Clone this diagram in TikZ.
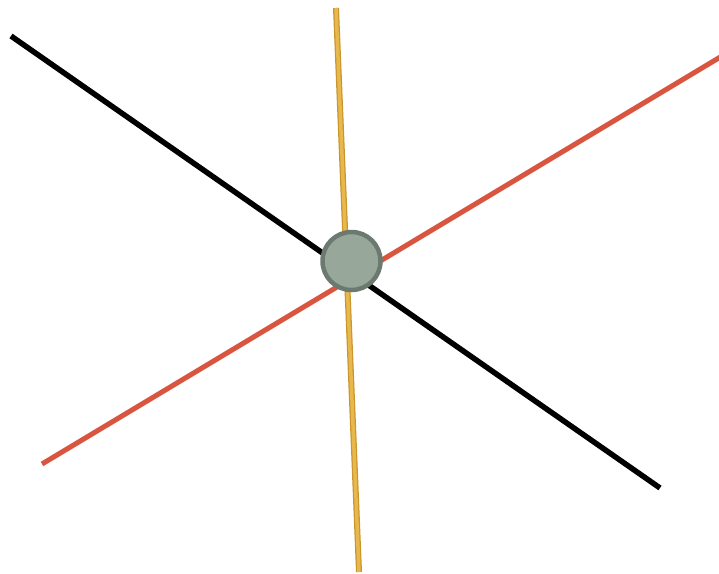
\documentclass[tikz,border=0pt]{standalone}
\begin{document}
\begin{tikzpicture}[x=1pt,y=-1pt,
  spoke/.style={line width=5.5pt, line cap=butt},
  hub/.style={circle, draw=hubedge, fill=hubfill, line width=4.5pt, minimum size=58pt, inner sep=0pt}]
\definecolor{redline}{HTML}{D9553F}
\definecolor{yelline}{HTML}{E8B84C}
\definecolor{yeledge}{HTML}{C9962E}
\definecolor{hubfill}{HTML}{97A89B}
\definecolor{hubedge}{HTML}{6C7971}
\useasboundingbox (0,0) rectangle (719,573);
\coordinate (k1) at (11,36);
\coordinate (k2) at (660,488);
\coordinate (r1) at (42,464);
\coordinate (r2) at (722,56);
\coordinate (y1) at (336,8);
\coordinate (y2) at (359,572);
\draw[spoke, line width=5pt, redline] (r1) -- (r2);
\draw[spoke, black] (k1) -- (k2);
\draw[spoke, line width=6pt, yeledge] (y1) -- (y2);
\draw[spoke, line width=3.5pt, yelline] (y1) -- (y2);
\node[hub] (h) at (351.5,261) {};
\end{tikzpicture}
\end{document}
